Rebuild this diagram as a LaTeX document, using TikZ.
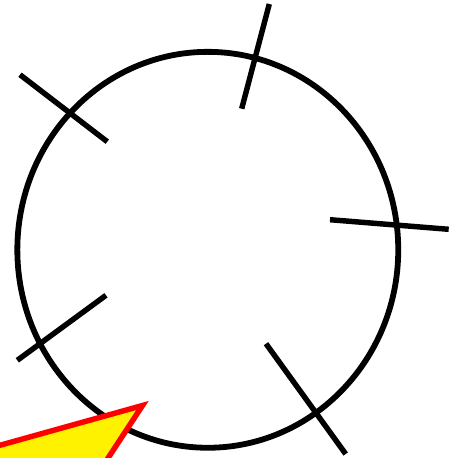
\documentclass[tikz,border=0pt]{standalone}
\usepackage{tikz}
\usetikzlibrary{calc}

\begin{document}
\begin{tikzpicture}[
    x=0.02cm, y=-0.02cm,
    rim/.style={draw=black, line width=3.3pt},
    tick/.style={draw=black, line width=3.1pt},
    wedge/.style={draw=red, fill=yellow, line width=3.1pt, line join=miter}
]
\useasboundingbox (0,0) rectangle (458,458);
\clip (0,0) rectangle (458,458);

% ================= WHEEL =================
\coordinate (hub) at (207.8,249.8);
\draw[rim] (hub) ellipse [x radius=3.81cm, y radius=3.96cm];

% ================= TICKS =================
\foreach \name/\ax/\ay/\bx/\by in {top/269.3/4/241.7/108.7,
    upleft/20/74.7/107.3/141.7,
    right/330/219.7/448.7/229.3,
    lowleft/17.3/360.3/106/295.3,
    lowright/266/343.7/345.7/454}{
  \coordinate (\name-out) at (\ax,\ay);
  \coordinate (\name-in) at (\bx,\by);
  \draw[tick] (\name-out) -- (\name-in);
}

% ================= POINTER =================
\coordinate (tip) at (142.5,405.5);
\coordinate (pleft) at (-60,462);
\coordinate (pbottom) at (95,478);
\draw[wedge] (tip) -- (pleft) -- (pbottom) -- cycle;

\end{tikzpicture}
\end{document}
